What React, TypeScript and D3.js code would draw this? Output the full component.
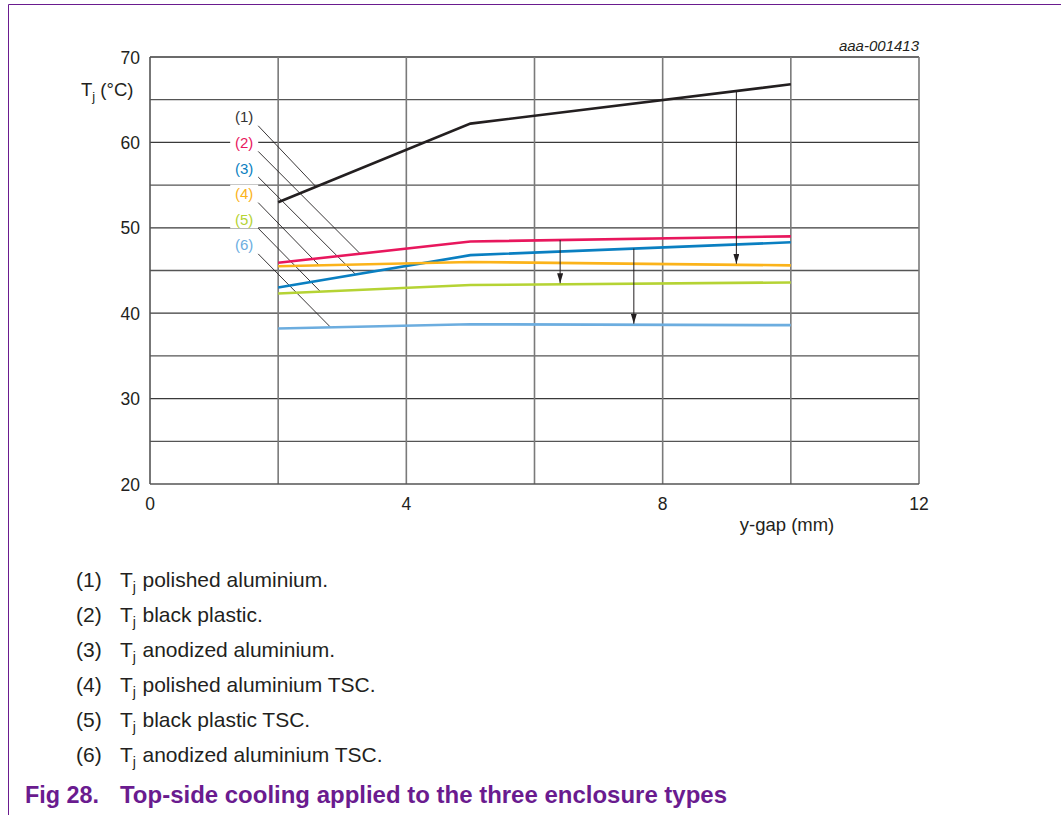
import React from "react";
import * as d3 from "d3";

// ---- data ----
const xGap = [2, 5, 10];
const polishedAl = [53.0, 62.2, 66.8];
const blackPlastic = [45.9, 48.4, 49.0];
const anodizedAl = [43.0, 46.8, 48.3];
const polishedAlTSC = [45.5, 46.0, 45.6];
const blackPlasticTSC = [42.3, 43.3, 43.6];
const anodizedAlTSC = [38.2, 38.7, 38.6];

const seriesNames = ["(1)", "(2)", "(3)", "(4)", "(5)", "(6)"];
const seriesValues = [polishedAl, blackPlastic, anodizedAl, polishedAlTSC, blackPlasticTSC, anodizedAlTSC];
const seriesColors = ["#231f20", "#e8175d", "#0a7fc1", "#fbb31a", "#b5d334", "#6caddf"];
const labelColors = ["#333333", "#e8175d", "#0a7fc1", "#fbb31a", "#b5d334", "#6caddf"];
const legendTexts = [
  "polished aluminium.",
  "black plastic.",
  "anodized aluminium.",
  "polished aluminium TSC.",
  "black plastic TSC.",
  "anodized aluminium TSC.",
];

// callout labels (data units) and leader targets
const labelX = 1.47;
const labelY = [63, 60, 57, 54, 51, 48];
const leaderEndX = [2.59, 3.28, 3.21, 2.64, 2.66, 2.82];

// arrows: from series -> to series at x
const arrowX = [9.15, 6.4, 7.55];
const arrowFrom = [0, 1, 2];
const arrowTo = [3, 4, 5];

const xTicks = [0, 4, 8, 12];
const yTicks = [20, 30, 40, 50, 60, 70];
const xGrid = [2, 4, 6, 8, 10, 12];
const yGrid = [25, 30, 35, 40, 45, 50, 55, 60, 65, 70];

const FONT = "'Liberation Sans', Arial, Helvetica, sans-serif";

function interp(vals: number[], xv: number) {
  for (let i = 0; i < xGap.length - 1; i++) {
    if (xv >= xGap[i] && xv <= xGap[i + 1]) {
      const t = (xv - xGap[i]) / (xGap[i + 1] - xGap[i]);
      return vals[i] + t * (vals[i + 1] - vals[i]);
    }
  }
  return vals[vals.length - 1];
}

export default function App() {
  const W = 1061, H = 815;
  const x = d3.scaleLinear().domain([0, 12]).range([150, 919]);
  const y = d3.scaleLinear().domain([20, 70]).range([484, 57]);
  const line = d3
    .line<number>()
    .x((_, i) => x(xGap[i]))
    .y((d) => y(d));

  const legendBase = 587;
  const legendStep = 34.9;

  return (
    <svg
      width={W}
      height={H}
      viewBox={`0 0 ${W} ${H}`}
      style={{ position: "absolute", left: 0, top: 0, background: "#fff" }}
      fontFamily={FONT}
    >
      <defs>
        <marker id="ah" viewBox="0 0 10 6" refX="10" refY="3" markerWidth="10" markerHeight="6" markerUnits="userSpaceOnUse" orient="auto">
          <path d="M0,0 L10,3 L0,6 Z" fill="#231f20" />
        </marker>
      </defs>
      <rect x={0} y={0} width={W} height={H} fill="#fff" />
      {/* page frame */}
      <line x1={8.5} y1={4.5} x2={W} y2={4.5} stroke="#6a1b8f" strokeWidth={1} />
      <line x1={8.5} y1={4.5} x2={8.5} y2={H} stroke="#6a1b8f" strokeWidth={1} />

      {/* grid */}
      {yGrid.map((v) => (
        <line key={"h" + v} x1={x(0)} x2={x(12)} y1={y(v)} y2={y(v)} stroke={v % 10 === 0 ? "#3a3a3a" : "#555"} strokeWidth={1.3} />
      ))}
      {xGrid.map((v) => (
        <line key={"v" + v} x1={x(v)} x2={x(v)} y1={y(70)} y2={y(20)} stroke="#7a7a7a" strokeWidth={1.6} />
      ))}
      <line x1={x(0)} x2={x(0)} y1={y(70)} y2={y(20)} stroke="#555" strokeWidth={1.6} />
      <line x1={x(0)} x2={x(12)} y1={y(20)} y2={y(20)} stroke="#555" strokeWidth={1.6} />

      {/* tick labels */}
      {yTicks.map((v) => (
        <text key={"yt" + v} x={140} y={y(v) + 6.5} textAnchor="end" fontSize={17.5} fill="#231f20">
          {v}
        </text>
      ))}
      {xTicks.map((v) => (
        <text key={"xt" + v} x={x(v)} y={509.5} textAnchor="middle" fontSize={17.5} fill="#231f20">
          {v}
        </text>
      ))}
      <text x={787} y={531} textAnchor="middle" fontSize={18.5} fill="#231f20">y-gap (mm)</text>
      <text x={81} y={96} fontSize={18.5} fill="#231f20">
        T<tspan fontSize={13} dy={5}>j</tspan>
        <tspan dy={-5}> (°C)</tspan>
      </text>
      <text x={919} y={50.5} textAnchor="end" fontSize={15} fontStyle="italic" fill="#231f20">aaa-001413</text>

      {/* label backgrounds + callouts */}
      {seriesNames.map((n, i) => (
        <rect key={"bg" + i} x={x(labelX) - 14} y={y(labelY[i]) - 9} width={28} height={18} fill="#fff" />
      ))}
      {seriesNames.map((n, i) => {
        const ex = leaderEndX[i];
        return (
          <line
            key={"ld" + i}
            x1={x(labelX) + 14}
            y1={y(labelY[i]) + 9}
            x2={x(ex)}
            y2={y(interp(seriesValues[i], ex))}
            stroke="#231f20"
            strokeWidth={0.9}
          />
        );
      })}
      {seriesNames.map((n, i) => (
        <text key={"lb" + i} x={x(labelX)} y={y(labelY[i]) + 5.5} textAnchor="middle" fontSize={15} fill={labelColors[i]}>
          {n}
        </text>
      ))}

      {/* series */}
      {seriesValues.map((vals, i) => (
        <path key={"s" + i} d={line(vals) || ""} fill="none" stroke={seriesColors[i]} strokeWidth={2.6} />
      ))}

      {/* arrows */}
      {arrowX.map((ax, k) => (
        <line
          key={"ar" + k}
          x1={x(ax)}
          x2={x(ax)}
          y1={y(interp(seriesValues[arrowFrom[k]], ax))}
          y2={y(interp(seriesValues[arrowTo[k]], ax)) - 1}
          stroke="#231f20"
          strokeWidth={1}
          markerEnd="url(#ah)"
        />
      ))}

      {/* legend */}
      {legendTexts.map((t, i) => (
        <g key={"lg" + i} fontSize={21} fill="#231f20">
          <text x={76} y={legendBase + i * legendStep}>{seriesNames[i]}</text>
          <text x={120} y={legendBase + i * legendStep}>
            T<tspan fontSize={14} dy={5}>j</tspan>
            <tspan dy={-5} x={142.5}>{t}</tspan>
          </text>
        </g>
      ))}

      {/* caption */}
      <text x={25} y={803} fontSize={24} fontWeight="bold" fill="#6a1b8f" textLength={74} lengthAdjust="spacingAndGlyphs">Fig 28.</text>
      <text x={120} y={803} fontSize={24} fontWeight="bold" fill="#6a1b8f" textLength={607} lengthAdjust="spacingAndGlyphs">
        Top-side cooling applied to the three enclosure types
      </text>
    </svg>
  );
}
